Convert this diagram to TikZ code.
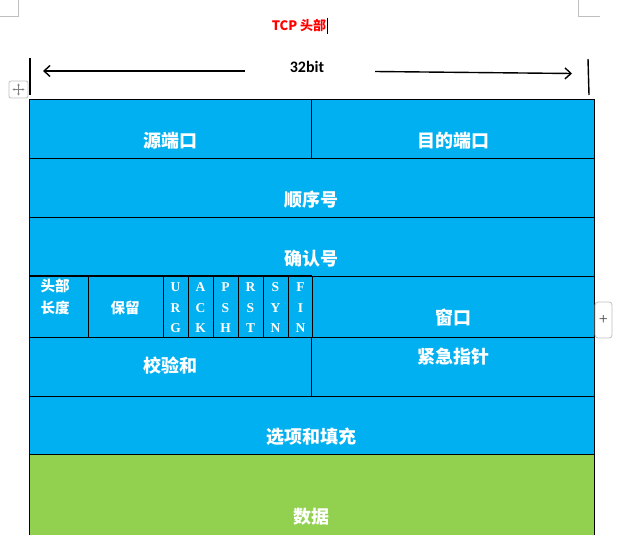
\documentclass[tikz,border=0pt]{standalone}
\usepackage{fontspec}
\setmainfont{Liberation Serif}
\newfontfamily\cjk{Noto Sans CJK SC}
\newfontfamily\calib{Carlito}
\usetikzlibrary{arrows.meta}
\definecolor{tblue}{HTML}{00B0F0}
\definecolor{tgreen}{HTML}{92D050}
\definecolor{uigray}{HTML}{BFBFBF}
\tikzset{
  cellB/.style={draw=black, fill=tblue, line width=0.9pt},
  cellG/.style={draw=black, fill=tgreen, line width=0.9pt},
  lab/.style={font=\cjk\bfseries\fontsize{18}{18}\selectfont, text=white, inner sep=0pt},
  small/.style={font=\cjk\bfseries\fontsize{14.5}{14.5}\selectfont, text=white, inner sep=0pt},
  flag/.style={font=\bfseries\fontsize{13.5}{13.5}\selectfont, text=white, inner sep=0pt},
  dimarrow/.style={line width=1.4pt, -{Straight Barb[length=6pt,width=11pt,line width=1.4pt]}},
}
\begin{document}
\begin{tikzpicture}[x=1pt,y=-1pt]
\useasboundingbox (0,0) rectangle (626,535);
\fill[white] (0,0) rectangle (626,535);
% UI marks
\draw[uigray, line width=0.8pt] (18,0) -- (18,16) -- (0,16);
\draw[uigray, line width=0.8pt] (578,0) -- (578,16) -- (600,16);
% title
\node[font=\cjk\bfseries\fontsize{13}{13}\selectfont, text=red, inner sep=0pt] (title) at (299,26) {TCP 头部};
\draw[line width=1pt] ([xshift=1pt,yshift=2pt]title.north east) -- ([xshift=1pt,yshift=-2pt]title.south east);
% 32bit
\node[font=\calib\bfseries\fontsize{16}{16}\selectfont, inner sep=0pt] (bits) at (307,67) {32bit};
\coordinate (la) at (245,71);
\coordinate (lb) at (43,71);
\coordinate (ra) at (375,71.5);
\coordinate (rb) at (572,73.5);
\draw[dimarrow] (la) -- (lb);
\draw[dimarrow] (ra) -- (rb);
\coordinate (lt) at (30,58); \coordinate (lbt) at (30,95);
\coordinate (rt) at (588,59); \coordinate (rbt) at (589,95);
\draw[line width=1.4pt] (lt) -- (lbt);
\draw[line width=1.4pt] (rt) -- (rbt);
% move handle
\draw[uigray, line width=0.8pt, rounded corners=2pt] (9,81) rectangle (28,98);
\coordinate (mh) at (18.5,89.5);
\draw[gray, line width=0.5pt, {Stealth[length=2pt,width=2.5pt]}-{Stealth[length=2pt,width=2.5pt]}] ([xshift=-6pt]mh) -- ([xshift=6pt]mh);
\draw[gray, line width=0.5pt, {Stealth[length=2pt,width=2.5pt]}-{Stealth[length=2pt,width=2.5pt]}] ([yshift=-6pt]mh) -- ([yshift=6pt]mh);
% table
\draw[cellB] (29,99) rectangle (311,158);
\draw[cellB] (311,99) rectangle (594,158);
\draw[cellB] (29,158) rectangle (594,217);
\draw[cellB] (29,217) rectangle (594,276);
\draw[cellB] (29,276) rectangle (88,337);
\draw[cellB] (88,276) rectangle (163,337);
\foreach \x in {163,188,213,238,263,288} {
  \draw[cellB] (\x,276) rectangle ({\x+25},337);
}
\draw[cellB] (312,276) rectangle (594,337);
\draw[line width=1.8pt] (29,276) -- (312,276);
\draw[cellB] (29,337) rectangle (311,396);
\draw[cellB] (311,337) rectangle (594,396);
\draw[cellB] (29,396) rectangle (594,454);
\draw[cellG] (29,454) rectangle (594,540);
% labels
\node[lab] (src) at (170,141) {源端口};
\node[lab] (dst) at (453,141) {目的端口};
\node[lab] (seq) at (311,200) {顺序号};
\node[lab] (ack) at (311,259) {确认号};
\node[small] (hl1) at (55,286) {头部};
\node[small] (hl2) at (55,308) {长度};
\node[small] (res) at (125,308) {保留};
\node[flag] (u1) at (175.5,287) {U};
\node[flag] (u2) at (175.5,308.5) {R};
\node[flag] (u3) at (175.5,328.5) {G};
\node[flag] (a1) at (200.5,287) {A};
\node[flag] (a2) at (200.5,308.5) {C};
\node[flag] (a3) at (200.5,328.5) {K};
\node[flag] (p1) at (225.5,287) {P};
\node[flag] (p2) at (225.5,308.5) {S};
\node[flag] (p3) at (225.5,328.5) {H};
\node[flag] (r1) at (250.5,287) {R};
\node[flag] (r2) at (250.5,308.5) {S};
\node[flag] (r3) at (250.5,328.5) {T};
\node[flag] (s1) at (275.5,287) {S};
\node[flag] (s2) at (275.5,308.5) {Y};
\node[flag] (s3) at (275.5,328.5) {N};
\node[flag] (f1) at (300.5,287) {F};
\node[flag] (f2) at (300.5,308.5) {I};
\node[flag] (f3) at (300.5,328.5) {N};
\node[lab] (win) at (453,318) {窗口};
\node[lab] (chk) at (170,366) {校验和};
\node[lab] (urg) at (453,357) {紧急指针};
\node[lab] (opt) at (311,437) {选项和填充};
\node[lab] (data) at (311,517) {数据};
% plus button
\draw[uigray, line width=0.8pt, fill=white, rounded corners=3pt] (595,302) rectangle (612,338);
\node[text=darkgray, font=\fontsize{16}{16}\selectfont, inner sep=0pt] (plus) at (603.5,320) {+};
\end{tikzpicture}
\end{document}
